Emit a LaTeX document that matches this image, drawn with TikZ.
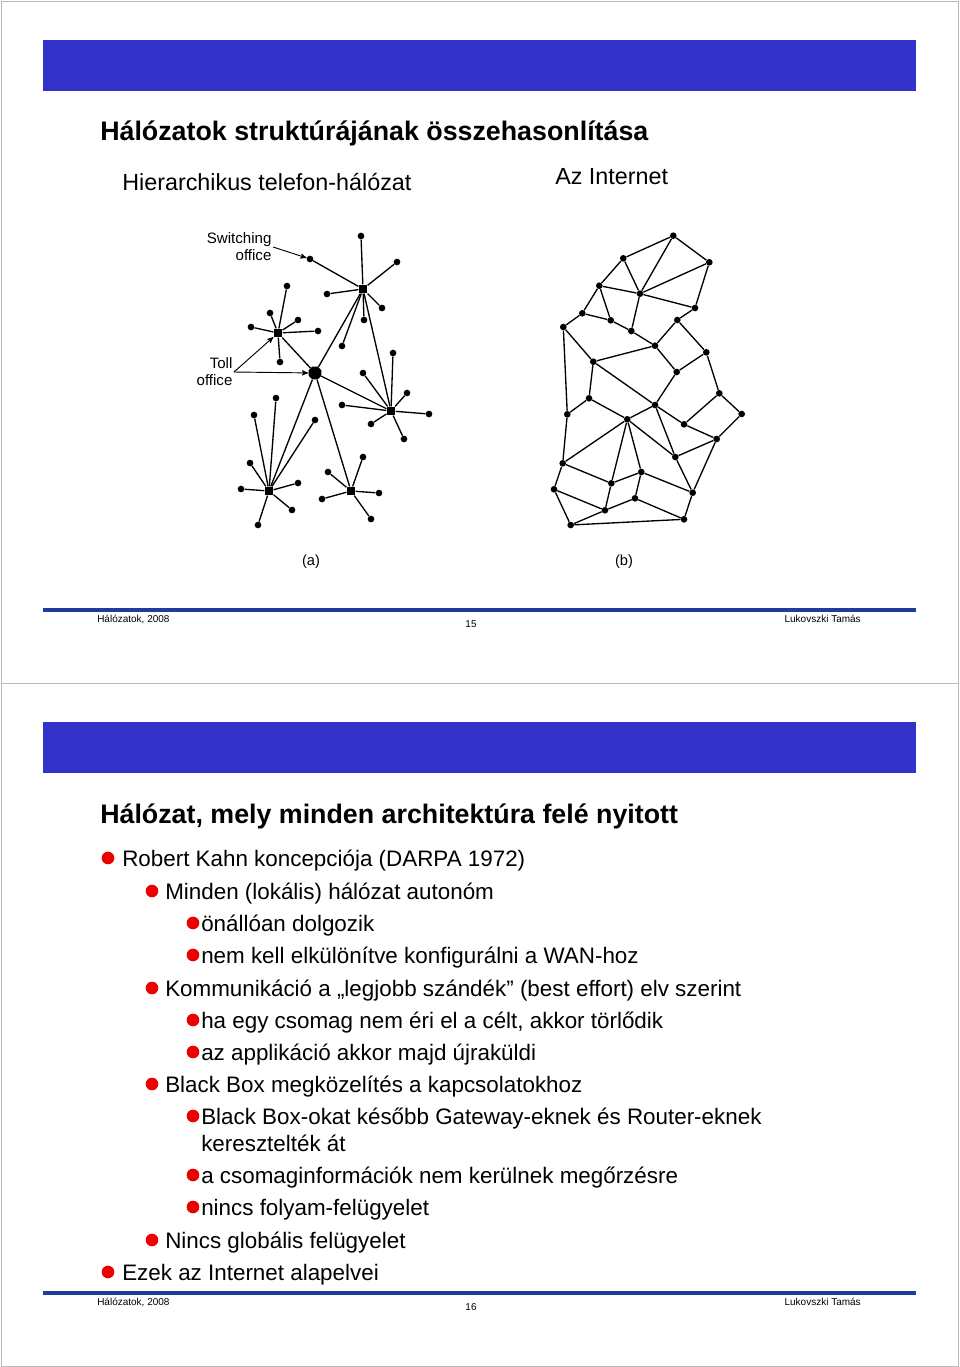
\documentclass[tikz,border=0pt]{standalone}
\usepackage{fontspec}
\setmainfont{Liberation Sans}
\usetikzlibrary{arrows,shapes.geometric}
\definecolor{barblue}{RGB}{51,51,204}
\definecolor{lineblue}{RGB}{30,60,160}
\definecolor{dotred}{RGB}{235,0,0}

\begin{document}
\begin{tikzpicture}[x=0.75pt,y=-0.75pt,>=stealth',
        net line/.style={line width=1pt},
        leaf node/.style={circle,fill,inner sep=0pt,minimum size=5pt},
        hub node/.style={rectangle,fill,inner sep=0pt,minimum size=6.5pt},
        toll node/.style={regular polygon,regular polygon sides=8,fill,inner sep=0pt,minimum size=10.5pt},
        net node/.style={circle,fill,inner sep=0pt,minimum size=5pt},
        title/.style={anchor=base west,inner sep=0pt,font=\fontsize{20.1}{24}\selectfont\bfseries},
        subtitle/.style={anchor=base west,inner sep=0pt,font=\fontsize{17.5}{21}\selectfont},
        item/.style={anchor=base west,inner sep=0pt,font=\fontsize{16.8}{20}\selectfont},
        bullet/.style={circle,fill=dotred,inner sep=0pt,minimum size=9.5pt},
        footer/.style={inner sep=0pt,font=\fontsize{7.5}{9}\selectfont},
        caption/.style={inner sep=0pt,font=\fontsize{11}{13}\selectfont},
        note/.style={inner sep=1pt,align=right,font=\fontsize{11.3}{12.75}\selectfont}]
  \useasboundingbox (0,0) rectangle (960,1367);

  % slide frames and bars
  \draw[gray!55] (1,1) rectangle (958,683);
  \draw[gray!55] (1,683) rectangle (958,1366);
  \fill[barblue] (43,40) rectangle (916,91);
  \fill[barblue] (43,722) rectangle (916,773);
  \draw[lineblue,line width=2.4pt] (43,610) -- (916,610);
  \draw[lineblue,line width=2.4pt] (43,1293) -- (916,1293);

  % slide 15
  \node[title] (title1) at (100,140) {Hálózatok struktúrájának összehasonlítása};
  \node[subtitle] (sub1) at (122,190) {Hierarchikus telefon-hálózat};
  \node[subtitle] (sub2) at (555,184) {Az Internet};

  % (a) hierarchical network
  \node[hub node] (sw) at (363,289) {};
  \node[toll node] (toll) at (315,373) {};
  \node[hub node] (ha) at (278,333) {};
  \node[hub node] (hb) at (391,411) {};
  \node[hub node] (hc) at (269,491) {};
  \node[hub node] (hd) at (351,491) {};

  \foreach \n/\x/\y in {1/361/236,2/310/259,3/397/262,4/327/294,5/382/308,6/364/320,7/342/346}
    \node[leaf node] (sw\n) at (\x,\y) {};
  \foreach \n/\x/\y in {1/287/286,2/270/313,3/298/320,4/318/331,5/251/327,6/280/362}
    \node[leaf node] (ha\n) at (\x,\y) {};
  \foreach \n/\x/\y in {1/363/373,2/407/393,3/342/405,4/429/414,5/371/424,6/404/439,7/393/353}
    \node[leaf node] (hb\n) at (\x,\y) {};
  \foreach \n/\x/\y in {1/276/398,2/254/415,3/315/420,4/250/463,5/241/489,6/298/483,7/292/510,8/258/525}
    \node[leaf node] (hc\n) at (\x,\y) {};
  \foreach \n/\x/\y in {1/363/457,2/328/472,3/322/499,4/379/493,5/371/519}
    \node[leaf node] (hd\n) at (\x,\y) {};

  \foreach \i in {1,...,7} \draw[net line] (sw) -- (sw\i);
  \foreach \i in {1,...,6} \draw[net line] (ha) -- (ha\i);
  \foreach \i in {1,...,7} \draw[net line] (hb) -- (hb\i);
  \foreach \i in {1,...,8} \draw[net line] (hc) -- (hc\i);
  \foreach \i in {1,...,5} \draw[net line] (hd) -- (hd\i);
  \foreach \u/\v in {sw/toll,sw/hb,toll/ha,toll/hb,toll/hc,toll/hd}
    \draw[net line] (\u) -- (\v);

  \node[note,anchor=east] (swlabel) at (273,247) {Switching\\office};
  \node[note,anchor=east] (tolllabel) at (234,372) {Toll\\office};
  \draw[->,line width=0.7pt] (swlabel.east) -- (sw2);
  \draw[->,line width=0.7pt] (tolllabel.east) -- (ha);
  \draw[->,line width=0.7pt] (tolllabel.east) -- (toll);

  % (b) the Internet
  \foreach \n/\x/\y in {1/673.3/235.7,2/709.3/262.3,3/623.3/258.3,4/599.3/285.7,5/640/293.7,
      6/695/308,7/582.3/313.3,8/610.7/320.3,9/563.3/327,10/631.3/331,11/677.3/320,
      12/655/345.7,13/706.3/352.3,14/593.3/361.7,15/676.7/372,16/589/398.3,17/719.3/393.3,
      18/655/405,19/567.3/414.3,20/741.7/414,21/627.3/419.3,22/684/424.3,23/716.7/439,
      24/675.3/457,25/562.7/463.3,26/641.3/472,27/611.3/483.3,28/554/489.3,29/692.7/492.7,
      30/635/498.3,31/605/510.3,32/684/519.3,33/570.7/525}
    \node[net node] (i\n) at (\x,\y) {};
  \foreach \u/\v in {1/3,1/5,1/2,3/4,3/5,5/2,2/6,4/5,5/6,4/7,4/8,5/10,7/9,7/8,8/10,
      10/12,9/14,9/19,12/14,12/11,11/6,12/15,11/13,13/15,14/16,14/18,15/18,13/17,
      16/19,16/21,19/25,18/21,18/22,18/24,17/22,17/20,20/23,22/23,23/24,23/29,
      21/25,21/27,21/26,21/24,24/29,25/27,25/28,27/26,26/29,26/30,27/31,28/31,
      28/33,31/30,30/32,29/32,33/32,33/31}
    \draw[net line] (i\u) -- (i\v);

  \node[caption] (capa) at (311,562) {(a)};
  \node[caption] (capb) at (624,562) {(b)};

  \node[footer,anchor=base west] (foot1) at (97,622) {Hálózatok, 2008};
  \node[footer,anchor=base] (page1) at (471,627) {15};
  \node[footer,anchor=base east] (auth1) at (861,622) {Lukovszki Tamás};

  % slide 16
  \node[title] (title2) at (100,823) {Hálózat, mely minden architektúra felé nyitott};

  \node[bullet] (bul1) at (108,858) {};
  \node[item] (it1) at (122,866) {Robert Kahn koncepciója (DARPA 1972)};
  \node[bullet] (bul2) at (152,891) {};
  \node[item] (it2) at (165,899) {Minden (lokális) hálózat autonóm};
  \node[bullet] (bul3) at (193,923) {};
  \node[item] (it3) at (201,931) {önállóan dolgozik};
  \node[bullet] (bul4) at (193,955) {};
  \node[item] (it4) at (201,963) {nem kell elkülönítve konfigurálni a WAN-hoz};
  \node[bullet] (bul5) at (152,988) {};
  \node[item] (it5) at (165,996) {Kommunikáció a „legjobb szándék” (best effort) elv szerint};
  \node[bullet] (bul6) at (193,1020) {};
  \node[item] (it6) at (201,1028) {ha egy csomag nem éri el a célt, akkor törlődik};
  \node[bullet] (bul7) at (193,1052) {};
  \node[item] (it7) at (201,1060) {az applikáció akkor majd újraküldi};
  \node[bullet] (bul8) at (152,1084) {};
  \node[item] (it8) at (165,1092) {Black Box megközelítés a kapcsolatokhoz};
  \node[bullet] (bul9) at (193,1116) {};
  \node[item] (it9) at (201,1124) {Black Box-okat később Gateway-eknek és Router-eknek};
  \node[item] (it9b) at (201,1151) {keresztelték át};
  \node[bullet] (bul10) at (193,1175) {};
  \node[item] (it10) at (201,1183) {a csomaginformációk nem kerülnek megőrzésre};
  \node[bullet] (bul11) at (193,1207) {};
  \node[item] (it11) at (201,1215) {nincs folyam-felügyelet};
  \node[bullet] (bul12) at (152,1240) {};
  \node[item] (it12) at (165,1248) {Nincs globális felügyelet};
  \node[bullet] (bul13) at (108,1272) {};
  \node[item] (it13) at (122,1280) {Ezek az Internet alapelvei};

  \node[footer,anchor=base west] (foot2) at (97,1305) {Hálózatok, 2008};
  \node[footer,anchor=base] (page2) at (471,1310) {16};
  \node[footer,anchor=base east] (auth2) at (861,1305) {Lukovszki Tamás};
\end{tikzpicture}
\end{document}
